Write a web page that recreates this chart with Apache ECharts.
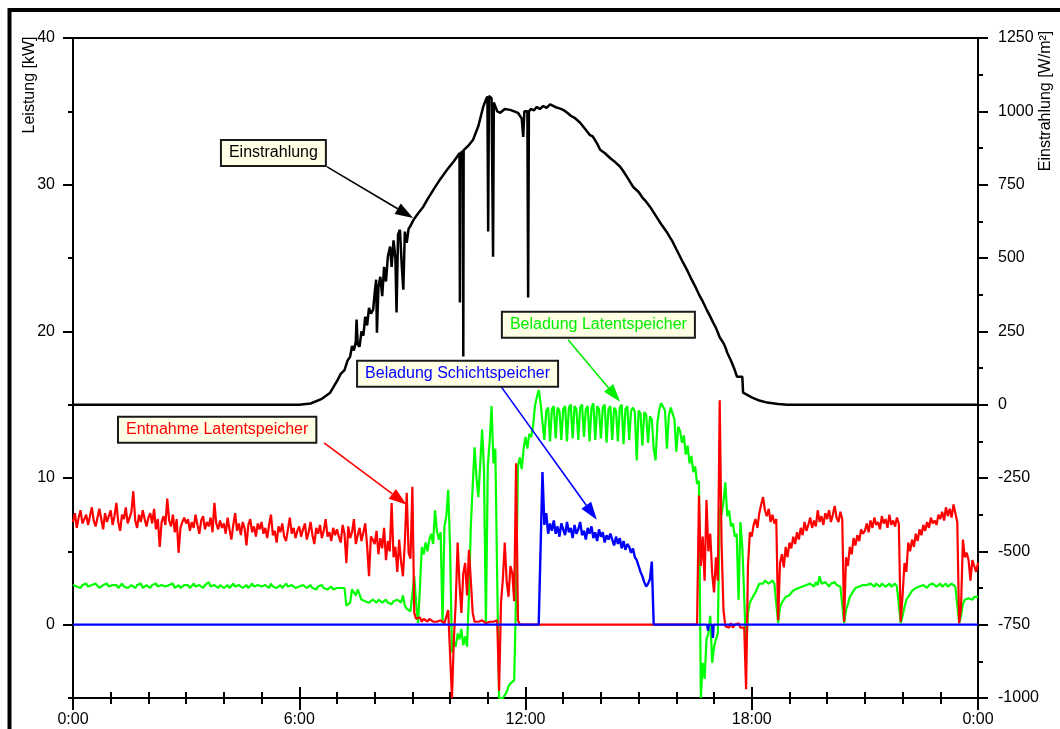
<!DOCTYPE html>
<html>
<head>
<meta charset="utf-8">
<script src="https://cdn.jsdelivr.net/npm/echarts@6/dist/echarts.min.js"></script>
<style>
  html, body { margin: 0; padding: 0; background: #fff; }
  #chart { width: 1060px; height: 729px; }
</style>
</head>
<body>
<div id="chart"></div>
<script>
// Zeitachse in Stunden, Messwerte alle 0,05 h (3 min)
const STEP = 0.05;
const xTickLabels = ['0:00', '6:00', '12:00', '18:00', '0:00'];
const leftMajor = [0, 10, 20, 30, 40];
const leftMinor = [-5, 5, 15, 25, 35];

// Entnahme Latentspeicher [kW], ab 0:00
const entnahmeLatent = [
  7.0,7.6,6.6,7.3,7.8,6.9,7.2,7.5,6.8,7.4,8.0,7.1,6.7,7.3,7.9,7.2,6.5,7.6,7.0,7.4,
  7.8,6.8,7.4,8.3,7.0,6.4,7.5,7.2,8.0,6.9,7.3,7.7,9.1,7.1,6.6,7.5,7.0,7.8,7.2,6.7,
  7.3,7.6,6.9,7.9,6.5,7.2,5.3,7.0,7.4,6.8,8.6,7.1,6.7,7.5,6.3,7.2,4.9,6.6,7.0,7.3,
  6.9,7.2,6.4,7.0,6.6,7.5,6.8,6.2,7.1,7.4,6.5,7.0,6.7,7.3,6.3,8.3,6.9,6.5,7.1,6.6,
  6.9,6.2,7.3,6.5,5.8,6.8,7.6,6.4,6.9,6.1,7.0,6.6,5.4,6.8,7.2,6.3,6.7,6.0,6.9,6.5,
  7.0,6.2,6.6,5.9,6.8,7.5,6.1,6.4,5.6,6.7,6.3,6.9,6.0,5.7,6.5,7.3,6.2,6.6,5.9,6.4,
  6.7,6.0,6.5,6.9,5.8,6.3,7.0,6.1,5.5,6.6,6.2,6.8,5.9,6.4,7.2,6.0,6.3,5.7,6.6,6.1,
  6.5,6.0,5.6,6.8,6.2,4.2,6.7,5.9,6.3,7.2,5.5,6.1,6.6,5.7,6.3,6.9,5.4,3.3,6.0,5.8,
  5.5,6.4,4.8,5.9,5.2,6.6,4.4,5.7,5.0,8.3,4.6,5.3,3.6,5.8,4.3,3.3,5.6,9.0,4.9,4.5,
  9.4,0.8,0.4,0.3,0.5,0.2,0.4,0.3,0.2,0.4,0.3,0.2,0.3,0.2,0.1,0.3,0.2,0.1,0.2,1.0,
  1.0,-5.0,-1.0,1.5,5.6,2.8,0.8,3.5,4.2,2.0,5.1,3.0,0.8,0.2,0.1,0.2,0.1,0.3,0.2,0.1,
  0.1,0.2,0.1,0.2,0.1,0.3,-4.5,1.5,3.1,5.6,3.0,1.9,4.0,3.5,1.6,11.0,0.3,0,0,0,
  0,0,0,0,0,0,0,0,0,0,0,0,0,0,0,0,0,0,0,0,
  0,0,0,0,0,0,0,0,0,0,0,0,0,0,0,0,0,0,0,0,
  0,0,0,0,0,0,0,0,0,0,0,0,0,0,0,0,0,0,0,0,
  0,0,0,0,0,0,0,0,0,0,0,0,0,0,0,0,0,0,0,0,
  0,0,0,0,0,0,0,0,0,0,0,0,8.8,4.0,6.0,3.0,8.5,5.0,6.2,3.5,
  2.2,4.6,3.0,15.3,5.5,1.0,-0.1,0.0,-0.2,0.1,-0.2,0.0,-0.1,0.1,-0.2,-0.3,-0.2,-4.4,4.0,6.3,
  6.0,6.8,7.2,6.6,7.6,8.2,8.7,7.8,7.4,7.9,7.0,7.5,6.9,7.2,0.3,4.2,4.8,3.9,5.3,4.6,
  5.6,5.2,6.0,5.5,6.3,5.8,6.6,6.1,7.0,6.4,6.8,7.3,6.6,7.1,6.7,7.8,7.0,7.4,6.8,7.6,
  7.2,7.8,7.0,7.5,8.1,7.3,7.0,7.7,7.2,0.2,4.6,4.0,5.3,4.8,5.9,5.4,6.1,5.7,6.5,6.2,
  6.4,6.9,6.3,7.1,6.6,7.3,6.8,7.0,6.5,7.4,6.9,7.2,6.6,7.5,6.8,7.1,6.7,7.3,6.9,0.2,
  2.0,4.2,3.6,5.6,5.0,5.8,5.3,6.2,5.7,6.5,6.1,6.8,6.4,7.0,6.6,7.3,6.9,7.1,6.8,7.5,
  7.2,7.7,7.1,8.0,7.4,7.9,7.3,8.2,7.6,7.0,0.1,1.2,5.8,4.6,4.9,4.4,3.0,4.4,4.0,3.6,4.2
];

// Beladung Latentspeicher [kW], ab 0:00
const beladungLatent = [
  2.7,2.8,2.6,2.7,2.5,2.7,2.6,2.8,2.6,2.5,2.7,2.6,2.8,2.7,2.5,2.6,2.7,2.6,2.8,2.6,
  2.5,2.7,2.6,2.7,2.5,2.6,2.8,2.6,2.7,2.5,2.6,2.7,2.6,2.5,2.7,2.6,2.8,2.5,2.6,2.7,
  2.6,2.5,2.7,2.6,2.8,2.6,2.5,2.7,2.6,2.6,2.5,2.7,2.6,2.8,2.5,2.6,2.7,2.5,2.6,2.7,
  2.6,2.7,2.5,2.6,2.8,2.6,2.5,2.7,2.6,2.5,2.7,2.6,2.9,2.6,2.5,2.7,2.6,2.5,2.7,2.6,
  2.5,2.6,2.7,2.5,2.6,2.8,2.6,2.5,2.7,2.6,2.5,2.6,2.7,2.5,2.6,2.8,2.6,2.5,2.7,2.6,
  2.6,2.5,2.7,2.6,2.5,2.8,2.6,2.7,2.5,2.6,2.7,2.5,2.6,2.8,2.6,2.5,2.7,2.6,2.5,2.6,
  2.6,2.5,2.7,2.6,2.5,2.6,2.7,2.5,2.6,2.4,2.6,2.5,2.7,2.5,2.6,2.4,2.5,2.6,2.4,2.5,
  2.5,2.4,2.5,2.6,2.5,1.3,1.2,1.5,2.4,2.2,2.0,2.4,2.4,1.7,1.8,1.6,1.7,1.5,1.6,1.7,
  1.6,1.5,1.7,1.6,1.5,1.6,1.7,1.5,1.6,1.4,1.6,1.5,1.7,1.6,1.5,2.0,1.3,1.1,1.0,0.9,
  0.8,3.3,1.5,0.1,2.5,5.3,4.8,5.6,5.0,5.8,6.2,5.5,7.8,6.4,5.8,6.3,0.1,6.7,7.4,9.2,
  5.3,-1.9,-1.2,-1.5,-0.6,-1.0,-0.3,-1.4,-0.8,-1.5,2.0,6.7,9.5,12.1,10.0,8.7,11.0,13.3,10.5,0.0,
  10.8,12.5,14.9,11.0,12.0,3.0,-5.0,-5.0,-5.0,-4.8,-4.6,-4.2,-4.0,-4.0,-3.8,2.0,10.8,11.4,10.6,12.0,
  12.8,12.0,13.0,12.8,13.5,14.9,15.5,16.0,15.1,13.8,12.6,14.6,14.8,12.5,14.7,14.9,12.7,14.8,14.6,12.6,
  14.7,14.9,12.5,14.8,15.0,12.7,14.9,14.7,12.6,14.8,15.0,12.8,14.7,14.9,12.5,14.8,15.1,12.6,14.9,14.7,
  12.7,14.8,15.0,12.4,14.7,14.9,12.6,14.8,14.6,12.5,14.8,15.0,12.3,14.7,14.9,12.6,14.6,14.8,14.5,11.2,
  14.6,14.4,12.2,14.5,14.3,12.4,14.2,14.0,12.0,11.2,13.8,14.7,15.1,15.0,14.6,12.0,14.2,14.8,14.9,14.0,
  11.8,13.5,13.2,12.4,12.9,11.6,12.2,11.0,11.5,10.4,10.8,9.6,9.8,-5.0,-2.6,-3.7,-1.0,-0.6,0.6,-2.6,
  -1.5,-1.0,-0.6,8.0,7.5,8.4,9.7,7.4,7.8,6.7,6.9,6.0,6.2,1.7,7.0,5.3,1.9,-1.9,0.8,1.5,
  1.6,2.0,2.2,2.5,2.8,2.9,2.8,3.0,2.9,2.8,2.9,3.0,2.8,2.9,0.1,1.2,1.5,1.7,1.9,2.0,
  2.0,2.2,2.1,2.4,2.3,2.5,2.4,2.6,2.5,2.7,2.6,2.8,2.7,2.6,2.9,2.7,3.3,2.8,2.7,2.9,
  2.8,2.6,2.8,2.7,2.9,2.7,2.8,2.6,2.7,0.1,1.0,1.4,1.9,2.1,2.3,2.5,2.4,2.6,2.5,2.7,
  2.6,2.7,2.6,2.8,2.7,2.6,2.8,2.7,2.6,2.8,2.7,2.6,2.7,2.8,2.6,2.7,2.8,2.6,2.7,0.1,
  0.6,1.2,1.7,1.9,2.1,2.3,2.4,2.5,2.4,2.6,2.5,2.7,2.6,2.5,2.7,2.6,2.8,2.7,2.6,2.7,
  2.8,2.6,2.7,2.8,2.6,2.7,2.8,2.7,2.6,2.7,0.1,0.6,1.4,1.7,1.6,1.8,1.9,1.7,1.9,2.0,1.9
];

// Beladung Schichtspeicher [kW], ab 12:24 (12.4 h)
const schichtStart = 12.4;
const beladungSchicht = [
  0,10.4,6.8,7.6,6.2,6.9,6.4,7.1,6.2,6.7,6.0,6.9,6.5,6.1,7.0,6.3,6.6,5.9,6.8,6.2,
  6.5,7.0,6.1,6.4,5.8,6.6,6.2,6.7,5.9,6.3,5.7,6.5,6.0,6.3,5.6,6.1,5.8,6.2,5.8,5.4,
  6.0,5.5,5.9,5.2,5.7,5.1,5.5,5.3,4.9,5.2,4.6,4.4,4.0,3.6,3.3,2.9,2.6,2.8,3.1,4.3,0
];
// Rest des Tages: [h, kW]
const schichtRest = [[0, 0], [12.35, 0], [15.45, 0], [16.82, 0], [16.84, -0.4], [16.86, 0], [16.95, 0], [16.97, -0.9], [16.99, 0], [24, 0]];

// Einstrahlung [W/m²]: [h, W/m²]
const einstrahlung = [
  [0,0],[6.0,0],[6.3,4],[6.6,20],[6.82,41],[7.0,80],[7.1,105],[7.2,118],[7.28,150],[7.35,164],
  [7.4,200],[7.45,185],[7.5,215],[7.52,290],[7.55,205],[7.6,198],[7.65,250],[7.7,235],[7.75,300],[7.8,270],
  [7.85,330],[7.9,310],[7.96,324],[8.0,380],[8.04,426],[8.06,245],[8.1,400],[8.15,436],[8.2,370],[8.25,470],
  [8.3,420],[8.35,505],[8.41,539],[8.45,470],[8.5,560],[8.55,500],[8.58,314],[8.62,580],[8.67,596],[8.72,470],
  [8.76,392],[8.8,590],[8.85,552],[8.9,600],[8.94,607],[9.03,630],[9.15,652],[9.29,675],[9.4,700],[9.56,733],
  [9.73,767],[9.92,801],[10.1,830],[10.25,857],[10.26,348],[10.275,858],[10.34,864],[10.35,164],[10.36,868],[10.5,885],
  [10.61,903],[10.75,950],[10.88,1016],[10.95,1040],[10.99,1050],[11.01,590],[11.03,1052],[11.1,1045],[11.14,504],[11.16,1030],
  [11.25,1000],[11.33,995],[11.45,1008],[11.59,1005],[11.7,1000],[11.8,995],[11.9,975],[11.94,913],[11.97,1000],[12.05,1000],
  [12.07,365],[12.09,1000],[12.15,1008],[12.22,1003],[12.3,1015],[12.38,1008],[12.47,1018],[12.56,1012],[12.65,1024],[12.8,1014],
  [12.9,1010],[13.0,1005],[13.1,996],[13.2,985],[13.3,978],[13.45,961],[13.55,945],[13.58,950],[13.63,932],[13.7,920],
  [13.78,915],[13.83,918],[13.9,890],[13.98,869],[14.1,858],[14.25,840],[14.35,830],[14.51,811],[14.6,795],[14.7,775],
  [14.85,743],[15.0,725],[15.1,706],[15.2,692],[15.3,675],[15.5,635],[15.6,615],[15.65,612],[15.76,586],[15.9,556],
  [16.0,530],[16.18,484],[16.3,455],[16.4,428],[16.52,398],[16.63,368],[16.7,352],[16.74,356],[16.8,325],[16.9,300],
  [16.98,279],[17.05,262],[17.1,258],[17.15,230],[17.25,210],[17.3,196],[17.35,177],[17.45,150],[17.5,145],[17.55,118],
  [17.61,95],[17.75,95],[17.77,41],[18.0,25],[18.2,14],[18.41,7],[18.7,2],[18.94,0],[24,0]
];

// Beschriftungen: Kasten oben links und Pfeil von/zu, in [h, kW]
const notes = [
  { text: 'Einstrahlung', color: '#000000', box: [3.95, 32.98], from: [6.74, 31.21], to: [9.02, 27.73] },
  { text: 'Entnahme Latentspeicher', color: '#ff0000', box: [1.22, 14.11], from: [6.66, 12.40], to: [8.85, 8.18] },
  { text: 'Beladung Schichtspeicher', color: '#0000ff', box: [7.56, 17.92], from: [11.32, 16.35], to: [13.89, 7.15] },
  { text: 'Beladung Latentspeicher', color: '#00ee00', box: [11.40, 21.26], from: [13.13, 19.42], to: [14.51, 15.20] }
];

const FONT = '"Liberation Sans", Arial, Helvetica, sans-serif';

function toPairs(start, values) {
  return values.map((v, i) => [+(start + i * STEP).toFixed(3), v]);
}

const schichtData = schichtRest.slice(0, 2)
  .concat(toPairs(schichtStart, beladungSchicht))
  .concat(schichtRest.slice(2));

const chart = echarts.init(document.getElementById('chart'));

const tickStyle = { color: '#000', width: 2 };

const option = {
  animation: false,
  backgroundColor: '#fff',
  grid: {
    left: 73, right: 82, top: 38, bottom: 31,
    show: true, borderColor: '#000', borderWidth: 2
  },
  xAxis: [
    {
      type: 'value', min: 0, max: 24, interval: 6, position: 'bottom',
      axisLine: { onZero: false, lineStyle: { color: '#000', width: 2 } },
      axisTick: { length: 12, lineStyle: tickStyle },
      minorTick: { show: true, splitNumber: 6, length: 6, lineStyle: tickStyle },
      axisLabel: {
        color: '#000', fontSize: 16, fontFamily: FONT, margin: 14,
        formatter: v => xTickLabels[Math.round(v / 6)]
      },
      splitLine: { show: false }
    },
    {
      // zweite Achse: Striche nach innen, damit sie die Achse kreuzen
      type: 'value', min: 0, max: 24, interval: 6, position: 'bottom',
      axisLine: { show: false, onZero: false },
      axisTick: { inside: true, length: 11, lineStyle: tickStyle },
      minorTick: { show: true, splitNumber: 6, length: 6, lineStyle: tickStyle },
      axisLabel: { show: false },
      splitLine: { show: false }
    }
  ],
  yAxis: [
    {
      type: 'value', min: -5, max: 40, position: 'left',
      axisLine: { show: true, onZero: false, lineStyle: { color: '#000', width: 2 } },
      axisTick: { show: true, length: 10, customValues: leftMajor, lineStyle: tickStyle },
      axisLabel: { color: '#000', fontSize: 16, fontFamily: FONT, margin: 18, customValues: leftMajor },
      splitLine: { show: false }
    },
    {
      type: 'value', min: -5, max: 40, position: 'left',
      axisLine: { show: false, onZero: false },
      axisTick: { show: true, length: 5, customValues: leftMinor, lineStyle: tickStyle },
      axisLabel: { show: false },
      splitLine: { show: false }
    },
    {
      type: 'value', min: -1000, max: 1250, interval: 250, position: 'right',
      axisLine: { show: true, onZero: false, lineStyle: { color: '#000', width: 2 } },
      axisTick: { show: true, length: 10, lineStyle: tickStyle },
      minorTick: { show: true, splitNumber: 2, length: 5, lineStyle: tickStyle },
      axisLabel: { color: '#000', fontSize: 16, fontFamily: FONT, margin: 20, formatter: v => String(v) },
      splitLine: { show: false }
    }
  ],
  series: [
    {
      name: 'Einstrahlung', type: 'line', xAxisIndex: 0, yAxisIndex: 2,
      data: einstrahlung, showSymbol: false,
      lineStyle: { color: '#000', width: 2.5 }
    },
    {
      name: 'Beladung Latentspeicher', type: 'line', xAxisIndex: 0, yAxisIndex: 0,
      data: toPairs(0, beladungLatent), showSymbol: false,
      lineStyle: { color: '#00ff00', width: 2.2 }
    },
    {
      name: 'Entnahme Latentspeicher', type: 'line', xAxisIndex: 0, yAxisIndex: 0,
      data: toPairs(0, entnahmeLatent), showSymbol: false,
      lineStyle: { color: '#ff0000', width: 2.2 }
    },
    {
      name: 'Beladung Schichtspeicher', type: 'line', xAxisIndex: 0, yAxisIndex: 0,
      data: schichtData, showSymbol: false,
      lineStyle: { color: '#0000ff', width: 2.4 }
    }
  ]
};

chart.setOption(option);

// Beschriftungen, Pfeile, Achsentitel und Rahmen
const px = p => chart.convertToPixel({ xAxisIndex: 0, yAxisIndex: 0 }, p);
const graphics = [];

notes.forEach(n => {
  const a = px(n.from), b = px(n.to), c = px(n.box);
  const dx = b[0] - a[0], dy = b[1] - a[1];
  const len = Math.sqrt(dx * dx + dy * dy);
  const ux = dx / len, uy = dy / len;
  const L = 18, W = 6;
  const bx = b[0] - ux * L, by = b[1] - uy * L;
  graphics.push({
    type: 'line', z: 20,
    shape: { x1: a[0], y1: a[1], x2: bx, y2: by },
    style: { stroke: n.color, lineWidth: 1.6 }
  });
  graphics.push({
    type: 'polygon', z: 20,
    shape: { points: [[b[0], b[1]], [bx - uy * W, by + ux * W], [bx + uy * W, by - ux * W]] },
    style: { fill: n.color }
  });
  graphics.push({
    type: 'text', z: 21, x: c[0], y: c[1],
    style: {
      text: n.text, fill: n.color, font: '16px ' + FONT,
      align: 'left', verticalAlign: 'top',
      backgroundColor: '#ffffe6', borderColor: '#1a1a1a', borderWidth: 2,
      padding: [4, 7, 4, 7]
    }
  });
});

graphics.push({
  type: 'text', x: 30, y: 85, rotation: Math.PI / 2,
  style: { text: 'Leistung [kW]', fill: '#000', font: '16px ' + FONT, align: 'center', verticalAlign: 'middle' }
});
graphics.push({
  type: 'text', x: 1046, y: 101, rotation: Math.PI / 2,
  style: { text: 'Einstrahlung [W/m²]', fill: '#000', font: '16px ' + FONT, align: 'center', verticalAlign: 'middle' }
});
graphics.push({
  type: 'rect', z: 30,
  shape: { x: 9.5, y: 10, width: 1200, height: 900 },
  style: { fill: 'none', stroke: '#000', lineWidth: 4 }
});

chart.setOption({ graphic: graphics });
</script>
</body>
</html>
